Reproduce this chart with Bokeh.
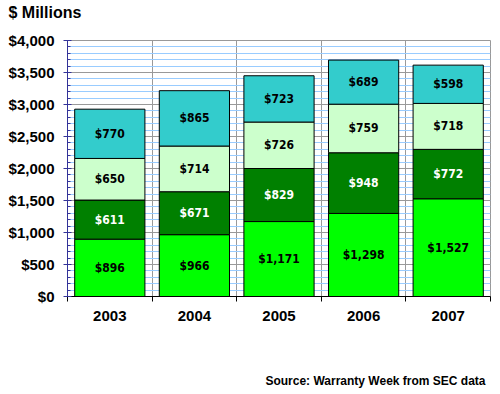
from bokeh.plotting import figure
from bokeh.models import (ColumnDataSource, FixedTicker, SingleIntervalTicker,
                          NumeralTickFormatter, Range1d, Title)
from bokeh.core.properties import value
from bokeh.embed import file_html
from bokeh.resources import INLINE

years = ["2003", "2004", "2005", "2006", "2007"]
seg1 = [896, 966, 1171, 1298, 1527]
seg2 = [611, 671, 829, 948, 772]
seg3 = [650, 714, 726, 759, 718]
seg4 = [770, 865, 723, 689, 598]
series = ["s1", "s2", "s3", "s4"]
colors = ["#00FF00", "#008000", "#CCFFCC", "#33CCCC"]
label_colors = ["black", "white", "black", "black"]

xs = [i + 1 for i in range(len(years))]
data = dict(x=xs, s1=seg1, s2=seg2, s3=seg3, s4=seg4)
src = ColumnDataSource(data)

p = figure(width=500, height=394, output_backend="svg", toolbar_location=None,
           x_range=Range1d(0.5, len(years) + 0.5), y_range=Range1d(0, 4000),
           min_border_left=67, min_border_right=10, min_border_top=40, min_border_bottom=98)
p.background_fill_color = "white"
p.border_fill_color = "white"
p.outline_line_color = "#999999"
p.outline_line_width = 1

# grid
p.ygrid.ticker = SingleIntervalTicker(interval=500, num_minor_ticks=5)
p.ygrid.grid_line_color = "#999999"
p.ygrid.minor_grid_line_color = "#99CCFF"
p.xgrid.grid_line_color = None

xt = FixedTicker(ticks=xs, minor_ticks=[x - 0.5 for x in xs] + [xs[-1] + 0.5])
p.xaxis.ticker = xt
p.xgrid.ticker = xt
p.xgrid.minor_grid_line_color = "#999999"

p.vbar_stack(series, x="x", width=0.83, source=src, color=colors,
             line_color="black", line_width=1)

# labels
lx, ly, lt, lc = [], [], [], []
segs = [seg1, seg2, seg3, seg4]
for i, x in enumerate(xs):
    base = 0
    for k, s in enumerate(segs):
        lx.append(x)
        ly.append(base + s[i] / 2)
        lt.append("${:,}".format(s[i]))
        lc.append(label_colors[k])
        base += s[i]
p.text(x=lx, y=ly, text=lt, text_color=lc, text_align="center", text_baseline="middle",
       text_font=value("DejaVu Sans Condensed"), text_font_style="bold", text_font_size="12px")

# y axis
yax = p.yaxis[0]
yax.ticker = SingleIntervalTicker(interval=500, num_minor_ticks=5)
yax.formatter = NumeralTickFormatter(format="$0,0")
yax.axis_line_color = "#333399"
yax.major_tick_line_color = "#333399"
yax.minor_tick_line_color = "#333399"
yax.major_tick_out = 4
yax.major_tick_in = 4
yax.minor_tick_out = 0
yax.minor_tick_in = 3
yax.major_label_standoff = 9
yax.major_label_text_font = "Liberation Sans"
yax.major_label_text_font_style = "bold"
yax.major_label_text_font_size = "15px"
yax.major_label_text_color = "black"

xax = p.xaxis[0]
xax.major_label_overrides = {x: y for x, y in zip(xs, years)}
xax.axis_line_color = "black"
xax.major_tick_line_color = None
xax.major_tick_out = 0
xax.major_tick_in = 0
xax.minor_tick_line_color = "black"
xax.minor_tick_out = 5
xax.minor_tick_in = 0
xax.major_label_standoff = 9
xax.major_label_text_font = "Liberation Sans"
xax.major_label_text_font_style = "bold"
xax.major_label_text_font_size = "15px"
xax.major_label_text_color = "black"

# top: spacer (nearest the frame), then the unit title
p.add_layout(Title(text=" ", text_font_size="8px", standoff=8, text_color="white"), "above")
t = Title(text="$ Millions", align="left", offset=-59, standoff=2,
          text_font="Liberation Sans", text_font_style="bold", text_font_size="16px",
          text_color="black")
p.add_layout(t, "above")

# bottom: spacer under the axis, then the source note
p.add_layout(Title(text=" ", text_font_size="8px", standoff=35, text_color="white"), "below")
s = Title(text="Source: Warranty Week from SEC data", align="right", offset=5, standoff=4,
          text_font="Liberation Sans", text_font_style="bold", text_font_size="12px",
          text_color="black")
p.add_layout(s, "below")

open("out.html", "w").write(file_html(p, INLINE))
